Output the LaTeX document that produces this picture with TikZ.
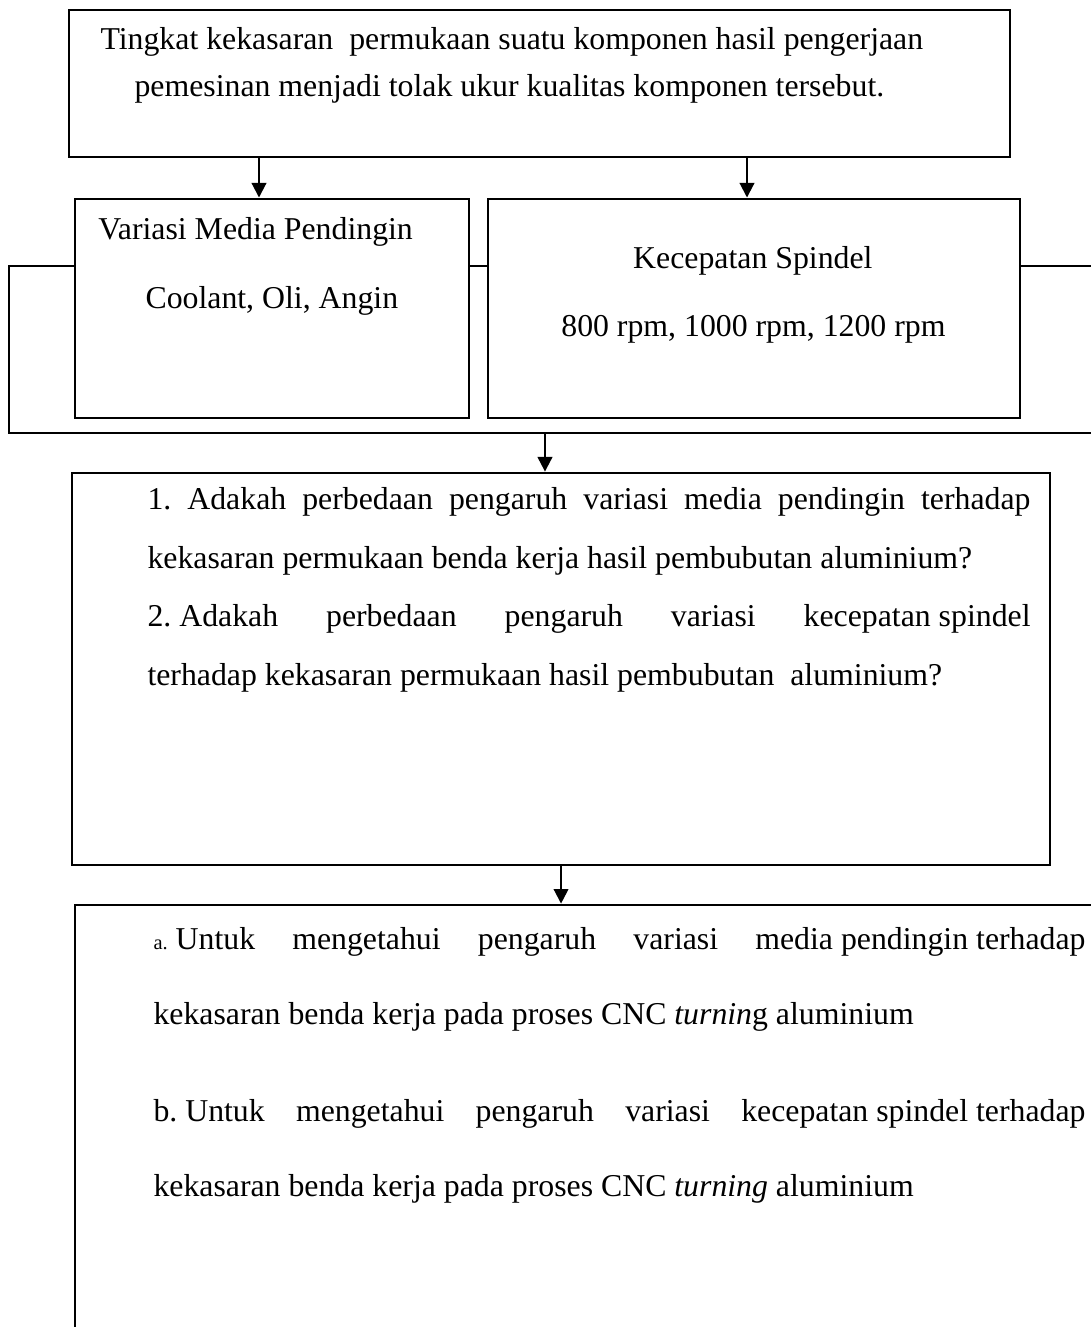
\documentclass[tikz,border=0pt]{standalone}
\usepackage{fontspec}
\setmainfont{Liberation Serif}
\usetikzlibrary{arrows.meta,calc}
\frenchspacing
\tikzset{
  >={Triangle[length=2mm,width=2mm]},
  flow/.style={->, draw=black, line width=0.8pt},
  boxed/.style={draw=black, line width=1.1pt, fill=white, inner sep=0pt},
  line/.style={font=\fontsize{12.4}{14}\selectfont, inner sep=0pt, anchor=base west}
}

\begin{document}
\begin{tikzpicture}
\useasboundingbox (0,0) rectangle (14.954,18.189);
\clip (0,0) rectangle (14.954,18.189);

% ------------------------------------------------------------
% TOP: background problem
% ------------------------------------------------------------
\node[boxed, minimum width=12.898cm, minimum height=2.015cm] (latar) at (7.395,17.045) {};
\node[line] (latar1) at (1.371,17.504) {Tingkat kekasaran\ \ permukaan suatu komponen hasil pengerjaan};
\node[line] (latar2) at (1.837,16.860) {pemesinan menjadi tolak ukur kualitas komponen tersebut.};

% ------------------------------------------------------------
% MIDDLE: variables, with the frame behind them
% ------------------------------------------------------------
\node[boxed, minimum width=15.477cm, minimum height=2.289cm] (frame) at (7.862,13.399) {};

\node[boxed, minimum width=5.401cm, minimum height=3.002cm] (media) at (3.728,13.961) {};
\node[line] (media1) at (1.343,14.900) {Variasi Media Pendingin};
\node[line] (media2) at (1.988,13.967) {Coolant, Oli, Angin};

\node[boxed, minimum width=7.292cm, minimum height=3.002cm] (spindel) at (10.335,13.961) {};
\node[line, anchor=base east] (spindel1) at (11.966,14.502) {Kecepatan Spindel};
\node[line, anchor=base east] (spindel2) at (12.967,13.570) {800 rpm, 1000 rpm, 1200 rpm};

\draw[flow] ([xshift=-1.78mm]media.north |- latar.south) -- ([xshift=-1.78mm]media.north);
\draw[flow] ([xshift=-0.96mm]spindel.north |- latar.south) -- ([xshift=-0.96mm]spindel.north);

% ------------------------------------------------------------
% problem formulation
% ------------------------------------------------------------
\node[boxed, minimum width=13.405cm, minimum height=5.373cm] (rumusan) at (7.690,9.019) {};
\node[line] (rm1) at (2.015,11.199)
  {\makebox[12.103cm][s]{1. Adakah perbedaan pengaruh variasi media pendingin terhadap}};
\node[line] (rm2) at (2.015,10.390) {kekasaran permukaan benda kerja hasil pembubutan aluminium?};
\node[line] (rm3) at (2.015,9.595)
  {\makebox[12.103cm][l]{2. Adakah \hfill perbedaan \hfill pengaruh \hfill variasi \hfill kecepatan spindel}};
\node[line] (rm4) at (2.015,8.786) {terhadap kekasaran permukaan hasil pembubutan\ \ aluminium?};

\draw[flow] ([xshift=-2.2mm]rumusan.north |- frame.south) -- ([xshift=-2.2mm]rumusan.north);

% ------------------------------------------------------------
% BOTTOM: objectives
% ------------------------------------------------------------
\node[boxed, minimum width=14.572cm, minimum height=6.284cm] (tujuan) at (8.314,2.642) {};
\node[line] (tj1) at (2.097,5.168)
  {\makebox[12.775cm][l]{{\fontsize{8}{9}\selectfont a.} Untuk \hfill mengetahui \hfill pengaruh \hfill variasi \hfill media pendingin terhadap}};
\node[line] (tj2) at (2.097,4.140) {kekasaran benda kerja pada proses CNC \textit{turnin}g aluminium};
\node[line] (tj3) at (2.097,2.810)
  {\makebox[12.775cm][l]{b. Untuk \hfill mengetahui \hfill pengaruh \hfill variasi \hfill kecepatan spindel terhadap}};
\node[line] (tj4) at (2.097,1.782) {kekasaran benda kerja pada proses CNC \textit{turning} aluminium};

\draw[flow] (rumusan.south) -- (rumusan.south |- tujuan.north);

\end{tikzpicture}
\end{document}
